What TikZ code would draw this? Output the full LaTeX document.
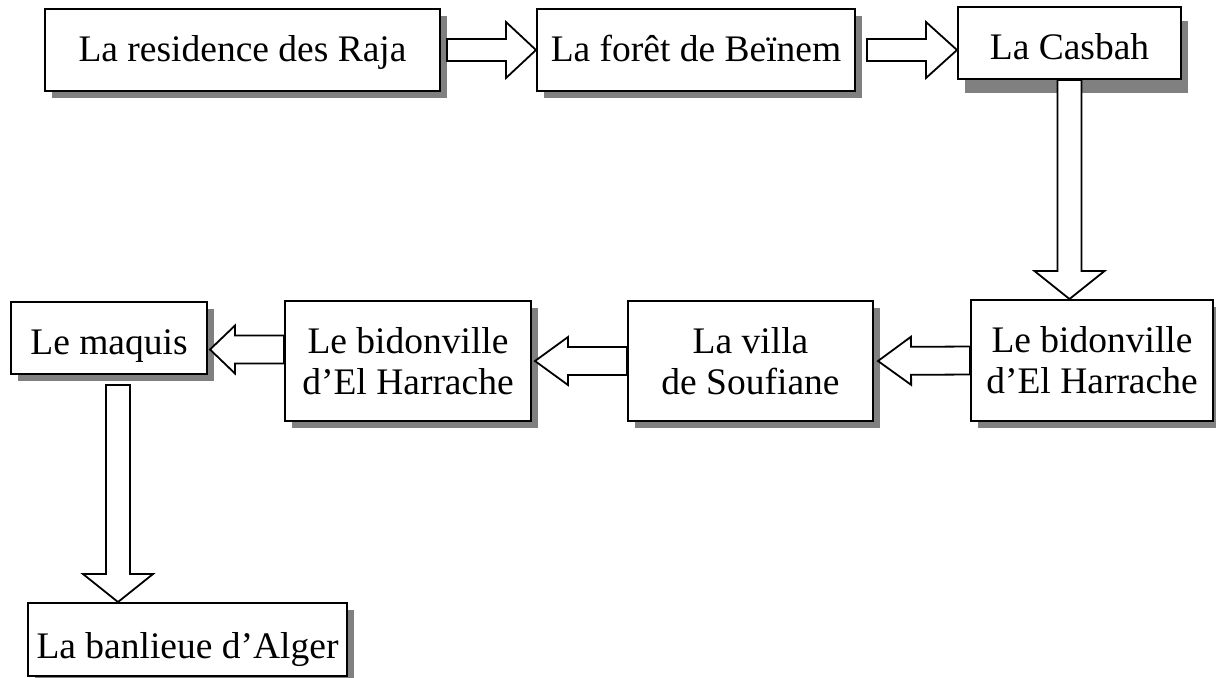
\documentclass[tikz,border=0pt]{standalone}
\usepackage{fontspec}
\setmainfont{Liberation Serif}
\usetikzlibrary{calc, shadows}
\definecolor{shadowgray}{HTML}{808080}

% hollow block arrow: start, tip, shaft half width, head half width, head length
\newcommand{\blockarrow}[5]{%
  \coordinate (ba-s) at (#1);
  \coordinate (ba-e) at (#2);
  \coordinate (ba-h) at ($(ba-e)!#5!(ba-s)$);
  \draw[blockarr] ($(ba-s)!#3!90:(ba-e)$) -- ($(ba-h)!#3!90:(ba-e)$)
    -- ($(ba-h)!#4!90:(ba-e)$) -- (ba-e) -- ($(ba-h)!#4!-90:(ba-e)$)
    -- ($(ba-h)!#3!-90:(ba-e)$) -- ($(ba-s)!#3!-90:(ba-e)$) -- cycle;
}

\begin{document}
\begin{tikzpicture}[
  x=0.5pt, y=-0.5pt,
  place/.style={draw=black, line width=1pt, fill=white, align=center,
    inner sep=0pt, font=\fontsize{18.75}{20.5}\selectfont,
    drop shadow={shadow xshift=3.25pt, shadow yshift=-#1, fill=shadowgray, opacity=1}},
  place/.default=3.5pt,
  oneline/.style={text height=#1, text depth=0pt},
  blockarr/.style={draw=black, line width=0.9pt, fill=white, line join=miter},
]

\useasboundingbox (0,0) rectangle (1216,677);

% =============================================
% Top row
% =============================================
\node[place, oneline=11pt, minimum width=197.5pt, minimum height=41pt] (res) at (242.5,50)
  {La residence des Raja};
\node[place, oneline=11pt, minimum width=159pt, minimum height=41pt] (foret) at (696,50)
  {La forêt de Beïnem};
\node[place=7pt, oneline=16pt, minimum width=111.5pt, minimum height=36pt] (casbah) at (1069.5,43)
  {La Casbah};

% =============================================
% Middle row
% =============================================
\node[place, minimum width=121pt, minimum height=60.5pt] (bidE) at (1092,360.5)
  {Le bidonville\\d’El Harrache};
\node[place, minimum width=122.5pt, minimum height=60pt] (villa) at (750.5,361)
  {La villa\\de Soufiane};
\node[place, minimum width=123pt, minimum height=60pt] (bidW) at (408,361)
  {Le bidonville\\d’El Harrache};
\node[place, oneline=16pt, minimum width=98pt, minimum height=36pt] (maquis) at (109,338)
  {Le maquis};

% =============================================
% Bottom
% =============================================
\node[place, oneline=19pt, minimum width=159.5pt, minimum height=36.5pt] (banlieue) at (187.5,639.5)
  {La banlieue d’Alger};

% =============================================
% Block arrows
% =============================================
\blockarrow{$(res.east)+(6,0)$}{foret.west}{5.5pt}{14pt}{15pt}
\blockarrow{$(foret.east)+(11,0)$}{casbah.west |- foret.east}{5.5pt}{14pt}{15.5pt}
\blockarrow{casbah.south}{casbah.south |- bidE.north}{6pt}{17.5pt}{14pt}
\blockarrow{bidE.west}{$(villa.east)+(4,0)$}{7pt}{12pt}{16.5pt}
\blockarrow{villa.west}{$(bidW.east)+(3,0)$}{7pt}{12pt}{16.5pt}
\coordinate (m67) at ($(bidW.west)!0.5!(maquis.east)$);
\blockarrow{bidW.west |- m67}{$(maquis.east |- m67)+(2,0)$}{7pt}{12pt}{12.5pt}
\coordinate (drop) at ($(maquis.south)+(9,10)$);
\blockarrow{drop}{drop |- banlieue.north}{6pt}{17.5pt}{14pt}

\end{tikzpicture}
\end{document}
